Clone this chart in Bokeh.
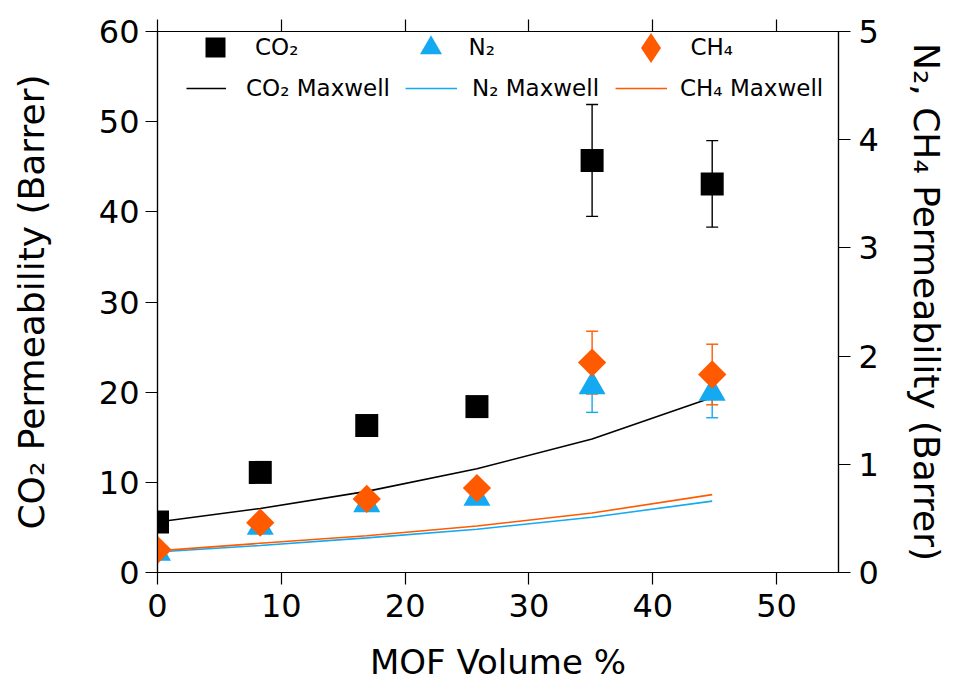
from bokeh.plotting import figure
from bokeh.models import (ColumnDataSource, Range1d, LinearAxis, Whisker, Legend,
                          LegendItem, FixedTicker)
from bokeh.embed import file_html
from bokeh.resources import INLINE
import numpy as np

# ---- data ----
mof_vol = [0.0, 8.3, 16.9, 25.8, 35.1, 44.8]
co2 = [5.6, 11.1, 16.3, 18.4, 45.7, 43.1]
co2_err = [0.0, 0.0, 0.0, 0.0, 6.2, 4.8]
n2 = [0.18, 0.42, 0.63, 0.69, 1.72, 1.66]
n2_err = [0.0, 0.0, 0.0, 0.0, 0.24, 0.23]
ch4 = [0.21, 0.46, 0.68, 0.78, 1.94, 1.83]
ch4_err = [0.0, 0.0, 0.0, 0.0, 0.29, 0.28]
co2_maxwell = [5.6, 7.1, 9.0, 11.5, 14.8, 19.4]
n2_maxwell = [0.19, 0.25, 0.32, 0.40, 0.51, 0.66]
ch4_maxwell = [0.20, 0.27, 0.34, 0.43, 0.55, 0.72]
x_ticks = [0, 10, 20, 30, 40, 50]
left_ticks = [0, 10, 20, 30, 40, 50, 60]
right_ticks = [0, 1, 2, 3, 4, 5]

BLUE = "#14A9F0"
ORANGE = "#FF5A00"
FONT = "DejaVu Sans"

src = ColumnDataSource(dict(
    x=mof_vol, co2=co2, n2=n2, ch4=ch4,
    co2m=co2_maxwell, n2m=n2_maxwell, ch4m=ch4_maxwell,
))
err_idx = [i for i, e in enumerate(co2_err) if e > 0]
esrc = ColumnDataSource(dict(
    x=[mof_vol[i] for i in err_idx],
    co2_lo=[co2[i] - co2_err[i] for i in err_idx], co2_hi=[co2[i] + co2_err[i] for i in err_idx],
    n2_lo=[n2[i] - n2_err[i] for i in err_idx], n2_hi=[n2[i] + n2_err[i] for i in err_idx],
    ch4_lo=[ch4[i] - ch4_err[i] for i in err_idx], ch4_hi=[ch4[i] + ch4_err[i] for i in err_idx],
))

p = figure(width=964, height=689, output_backend="svg", toolbar_location=None,
           x_range=Range1d(0, 55), y_range=Range1d(0, 60),
           min_border_left=157, min_border_right=126, min_border_top=31, min_border_bottom=117)
p.extra_y_ranges = {"right": Range1d(0, 5)}
p.grid.visible = False
p.outline_line_color = "black"
p.outline_line_width = 1.2
p.background_fill_color = "white"
p.border_fill_color = "white"

def style_axis(ax, ticks):
    ax.ticker = FixedTicker(ticks=ticks)
    ax.minor_tick_line_color = None
    ax.major_tick_in = 0
    ax.major_tick_out = 12
    ax.axis_line_color = "black"
    ax.axis_line_width = 1.2
    ax.major_tick_line_width = 1.2
    ax.major_label_text_font = FONT
    ax.major_label_text_font_size = "32px"
    ax.major_label_text_color = "black"
    ax.axis_label_text_font = FONT
    ax.axis_label_text_font_size = "34px"
    ax.axis_label_text_font_style = "normal"
    ax.axis_label_text_color = "black"

style_axis(p.xaxis[0], x_ticks)
p.xaxis[0].axis_label = "MOF Volume %"
p.xaxis[0].major_label_standoff = 9
p.xaxis[0].axis_label_standoff = 22

style_axis(p.yaxis[0], left_ticks)
p.yaxis[0].axis_label = "CO\u2082 Permeability (Barrer)"
p.yaxis[0].axis_label_text_font_size = "36px"
p.yaxis[0].major_label_standoff = 6
p.yaxis[0].axis_label_standoff = 44

right_ax = LinearAxis(y_range_name="right", axis_label="N\u2082, CH\u2084 Permeability (Barrer)")
style_axis(right_ax, right_ticks)
right_ax.axis_label_text_font_size = "36px"
right_ax.major_label_standoff = 8
right_ax.axis_label_standoff = 24
p.add_layout(right_ax, "right")

top_ax = LinearAxis()
style_axis(top_ax, x_ticks)
top_ax.major_label_text_font_size = "0px"
top_ax.major_label_text_color = None
p.add_layout(top_ax, "above")

# Maxwell lines
l_co2 = p.line("x", "co2m", source=src, line_color="black", line_width=1.6)
l_n2 = p.line("x", "n2m", source=src, line_color=BLUE, line_width=1.6, y_range_name="right")
l_ch4 = p.line("x", "ch4m", source=src, line_color=ORANGE, line_width=1.6, y_range_name="right")

# error bars
for lo, hi, col, yr in [("co2_lo", "co2_hi", "black", "default"),
                        ("n2_lo", "n2_hi", BLUE, "right"),
                        ("ch4_lo", "ch4_hi", ORANGE, "right")]:
    w = Whisker(source=esrc, base="x", lower=lo, upper=hi, line_color=col, line_width=1.4,
                y_range_name=yr)
    for h in (w.upper_head, w.lower_head):
        h.line_color = col
        h.size = 12
        h.line_width = 1.4
    p.add_layout(w)

# markers
s_n2 = p.scatter("x", "n2", source=src, marker="triangle", size=27, fill_color=BLUE,
                 line_color=None, y_range_name="right")
s_ch4 = p.scatter("x", "ch4", source=src, marker="square", angle=np.pi / 4, size=20,
                  fill_color=ORANGE, line_color=None, y_range_name="right")
s_co2 = p.scatter("x", "co2", source=src, marker="square", size=23, fill_color="black",
                  line_color=None)
# legend-only glyph for the CH4 diamond (legend markers are drawn unrotated)
ch4_key = p.scatter(x=[np.nan], y=[np.nan], marker="diamond", fill_color=ORANGE,
                    line_color=None, y_range_name="right")

# legend: one entry per box so each key can be sized / placed like the reference
FRAME_BOTTOM = 572
FRAME_LEFT = 157

def add_key(label, renderer, cx, cy, gw, gh, standoff):
    lg = Legend(items=[LegendItem(label=label, renderers=[renderer])],
                location=(cx - gw / 2 - FRAME_LEFT, FRAME_BOTTOM - cy - gh / 2))
    lg.margin = 0
    lg.padding = 0
    lg.spacing = 0
    lg.glyph_width = gw
    lg.glyph_height = gh
    lg.label_standoff = standoff
    lg.label_text_font = FONT
    lg.label_text_font_size = "23px"
    lg.label_height = 20
    lg.label_text_color = "black"
    lg.background_fill_alpha = 0
    lg.border_line_color = None
    p.add_layout(lg, "center")

add_key("CO\u2082", s_co2, 215, 47, 50, 50, 15)
add_key("N\u2082", s_n2, 430, 47, 55, 55, 11)
add_key("CH\u2084", ch4_key, 650, 47, 75, 75, 3)
add_key("CO\u2082 Maxwell", l_co2, 206, 88, 40, 30, 20)
add_key("N\u2082 Maxwell", l_n2, 431, 88, 52, 30, 15)
add_key("CH\u2084 Maxwell", l_ch4, 641, 88, 52, 30, 13)

open("out.html", "w").write(file_html(p, INLINE))
